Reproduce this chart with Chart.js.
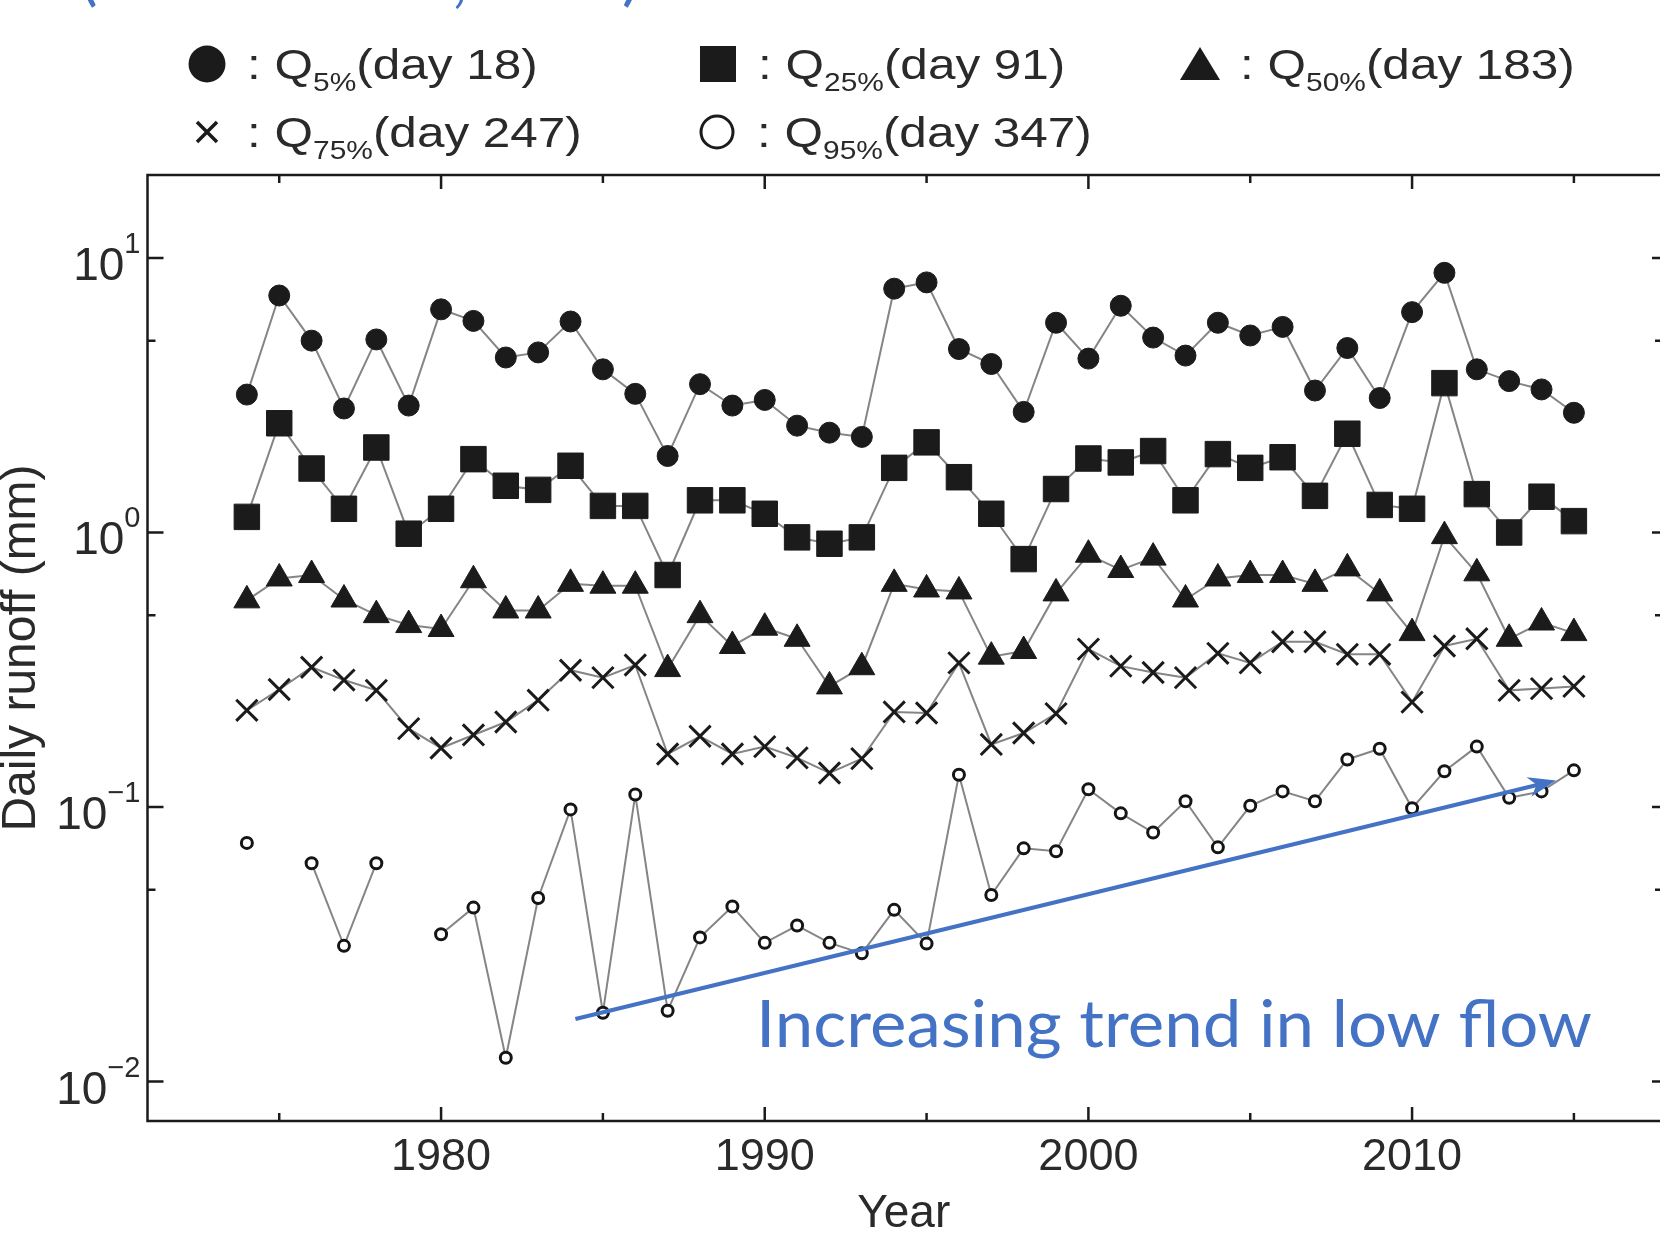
<!DOCTYPE html>
<html>
<head>
<meta charset="utf-8">
<title>Daily runoff quantiles</title>
<script src="https://cdn.jsdelivr.net/npm/chart.js@4.4.1/dist/chart.umd.min.js"></script>
<style>
  html, body { margin: 0; padding: 0; background: #ffffff; }
  canvas { display: block; }
</style>
</head>
<body>
<canvas id="runoffChart" width="1660" height="1242"></canvas>
<script>
// one value per year (mm)
const years = [1974, 1975, 1976, 1977, 1978, 1979, 1980, 1981, 1982, 1983,
               1984, 1985, 1986, 1987, 1988, 1989, 1990, 1991, 1992, 1993,
               1994, 1995, 1996, 1997, 1998, 1999, 2000, 2001, 2002, 2003,
               2004, 2005, 2006, 2007, 2008, 2009, 2010, 2011, 2012, 2013,
               2014, 2015];
const q5 = [3.18, 7.3, 5.0, 2.83, 5.05, 2.9, 6.5, 5.9, 4.34, 4.53,
            5.87, 3.93, 3.2, 1.9, 3.47, 2.9, 3.04, 2.45, 2.31, 2.23,
            7.73, 8.15, 4.66, 4.11, 2.75, 5.81, 4.3, 6.7, 5.13, 4.41,
            5.81, 5.22, 5.61, 3.29, 4.7, 3.09, 6.35, 8.83, 3.93, 3.56,
            3.32, 2.73];
const q25 = [1.14, 2.5, 1.71, 1.22, 2.04, 0.99, 1.22, 1.85, 1.48, 1.43,
             1.75, 1.25, 1.25, 0.7, 1.31, 1.31, 1.17, 0.96, 0.91, 0.96,
             1.72, 2.13, 1.59, 1.17, 0.8, 1.44, 1.86, 1.8, 1.98, 1.31,
             1.93, 1.72, 1.88, 1.36, 2.29, 1.26, 1.22, 3.5, 1.38, 1.0,
             1.35, 1.1];
const q50 = [0.566, 0.68, 0.7, 0.57, 0.5, 0.46, 0.445, 0.67, 0.52, 0.52,
             0.65, 0.64, 0.64, 0.318, 0.5, 0.386, 0.45, 0.41, 0.275, 0.323,
             0.65, 0.62, 0.61, 0.353, 0.37, 0.6, 0.83, 0.73, 0.81, 0.57,
             0.68, 0.7, 0.7, 0.65, 0.74, 0.6, 0.43, 0.97, 0.71, 0.41,
             0.47, 0.43];
const q75 = [0.225, 0.268, 0.323, 0.29, 0.266, 0.193, 0.164, 0.183, 0.204, 0.245,
             0.315, 0.296, 0.329, 0.156, 0.181, 0.156, 0.166, 0.151, 0.133, 0.15,
             0.222, 0.22, 0.335, 0.169, 0.186, 0.219, 0.376, 0.326, 0.309, 0.296,
             0.363, 0.335, 0.4, 0.4, 0.36, 0.36, 0.241, 0.386, 0.41, 0.266,
             0.27, 0.275];
const q95 = [0.074, null, 0.0624, 0.0312, 0.0624, null, 0.0344, 0.043, 0.0122, 0.0466,
             0.098, 0.0178, 0.111, 0.0181, 0.0335, 0.0434, 0.032, 0.037, 0.032, 0.0293,
             0.0422, 0.0318, 0.131, 0.0478, 0.0707, 0.069, 0.116, 0.0948, 0.0807, 0.105,
             0.0713, 0.101, 0.114, 0.105, 0.149, 0.163, 0.099, 0.135, 0.166, 0.108,
             0.114, 0.136];

const yearTicks = [1975, 1980, 1985, 1990, 1995, 2000, 2005, 2010, 2015];
const yearLabels = [1980, 1990, 2000, 2010];
const decadeTicks = [0.01, 0.1, 1, 10];
const decadeExponents = ['\u22122', '\u22121', '0', '1'];
const halfDecadeTicks = [0.05, 0.5, 5];

const legendSubs = ['5%', '25%', '50%', '75%', '95%'];
const legendDays = ['(day 18)', '(day 91)', '(day 183)', '(day 247)', '(day 347)'];
const legendSymbols = ['circle', 'square', 'triangle', 'cross', 'ring'];

const trendStart = [1984.15, 0.0169];
const trendEnd = [2014.45, 0.125];
const trendCaption = 'Increasing trend in low flow';

const INK = '#1b1b1b';
const TEXT = '#2a2a2a';
const LINE = '#858585';
const BLUE = '#4472C4';
const SANS = '"Liberation Sans", Arial, sans-serif';

function series(values) {
  return years.map((yr, i) => ({ x: yr, y: values[i] }));
}

function drawSymbol(ctx, kind, x, y) {
  ctx.save();
  ctx.fillStyle = INK;
  ctx.strokeStyle = INK;
  ctx.beginPath();
  if (kind === 'circle') {
    ctx.arc(x, y, 18.5, 0, Math.PI * 2);
    ctx.fill();
  } else if (kind === 'square') {
    ctx.fillRect(x - 18, y - 18, 36, 36);
  } else if (kind === 'triangle') {
    ctx.moveTo(x, y - 17);
    ctx.lineTo(x + 20, y + 16);
    ctx.lineTo(x - 20, y + 16);
    ctx.closePath();
    ctx.fill();
  } else if (kind === 'cross') {
    ctx.lineWidth = 3.5;
    ctx.moveTo(x - 10, y - 10); ctx.lineTo(x + 10, y + 10);
    ctx.moveTo(x + 10, y - 10); ctx.lineTo(x - 10, y + 10);
    ctx.stroke();
  } else {
    ctx.lineWidth = 3;
    ctx.arc(x, y, 16, 0, Math.PI * 2);
    ctx.stroke();
  }
  ctx.restore();
}

const figureDecor = {
  id: 'figureDecor',
  afterDatasetsDraw(chart) {
    const { ctx, scales: { x, y } } = chart;
    const x0 = x.getPixelForValue(trendStart[0]);
    const y0 = y.getPixelForValue(trendStart[1]);
    const x1 = x.getPixelForValue(trendEnd[0]);
    const y1 = y.getPixelForValue(trendEnd[1]);
    const ang = Math.atan2(y1 - y0, x1 - x0);
    const head = 28, half = 10;

    ctx.save();
    ctx.strokeStyle = BLUE;
    ctx.fillStyle = BLUE;
    ctx.lineWidth = 4;
    ctx.beginPath();
    ctx.moveTo(x0, y0);
    ctx.lineTo(x1 - Math.cos(ang) * head * 0.7, y1 - Math.sin(ang) * head * 0.7);
    ctx.stroke();
    ctx.translate(x1, y1);
    ctx.rotate(ang);
    ctx.beginPath();
    ctx.moveTo(0, 0);
    ctx.lineTo(-head, -half);
    ctx.lineTo(-head * 0.7, 0);
    ctx.lineTo(-head, half);
    ctx.closePath();
    ctx.fill();
    ctx.restore();

    ctx.save();
    ctx.font = '66px Lato';
    ctx.fillStyle = BLUE;
    const w = ctx.measureText(trendCaption).width;
    ctx.translate(756, 1047);
    ctx.scale(836 / w, 1);
    ctx.fillText(trendCaption, 0, 0);
    ctx.restore();
  },
  afterDraw(chart) {
    const { ctx, chartArea: a, scales: { x, y } } = chart;

    // frame with inward ticks
    ctx.save();
    ctx.strokeStyle = INK;
    ctx.lineWidth = 2.5;
    ctx.beginPath();
    ctx.moveTo(a.right + 2, a.top);
    ctx.lineTo(a.left, a.top);
    ctx.lineTo(a.left, a.bottom);
    ctx.lineTo(a.right + 2, a.bottom);
    ctx.stroke();
    ctx.beginPath();
    yearTicks.forEach(v => {
      const px = x.getPixelForValue(v);
      const len = v % 10 === 0 ? 14 : 8;
      ctx.moveTo(px, a.bottom); ctx.lineTo(px, a.bottom - len);
      ctx.moveTo(px, a.top); ctx.lineTo(px, a.top + len);
    });
    decadeTicks.forEach(v => {
      const py = y.getPixelForValue(v);
      ctx.moveTo(a.left, py); ctx.lineTo(a.left + 16, py);
      ctx.moveTo(a.right, py); ctx.lineTo(a.right - 8, py);
    });
    halfDecadeTicks.forEach(v => {
      const py = y.getPixelForValue(v);
      ctx.moveTo(a.left, py); ctx.lineTo(a.left + 8, py);
      ctx.moveTo(a.right, py); ctx.lineTo(a.right - 5, py);
    });
    ctx.stroke();

    // y tick labels as powers of ten
    ctx.fillStyle = TEXT;
    ctx.textAlign = 'left';
    ctx.textBaseline = 'alphabetic';
    decadeTicks.forEach((v, i) => {
      const py = y.getPixelForValue(v);
      const sup = decadeExponents[i];
      ctx.font = '29px ' + SANS;
      const sw = ctx.measureText(sup).width;
      ctx.font = '46px ' + SANS;
      const bw = ctx.measureText('10').width;
      const right = a.left - 7;
      ctx.fillText('10', right - sw - bw, py + 22);
      ctx.font = '29px ' + SANS;
      ctx.fillText(sup, right - sw, py - 5);
    });

    // legend
    const slots = [[207, 64], [718, 64], [1200, 64], [207, 132], [717, 132]];
    legendSubs.forEach((sub, i) => {
      const [mx, my] = slots[i];
      drawSymbol(ctx, legendSymbols[i], mx, my);
      ctx.save();
      ctx.translate(mx + 40, my + 15);
      ctx.scale(1.15, 1);
      ctx.fillStyle = TEXT;
      ctx.font = '43px ' + SANS;
      ctx.fillText(':', 0, 0);
      let cx = 24;
      ctx.fillText('Q', cx, 0);
      cx += ctx.measureText('Q').width;
      ctx.font = '26px ' + SANS;
      ctx.fillText(sub, cx, 12);
      cx += ctx.measureText(sub).width;
      ctx.font = '43px ' + SANS;
      ctx.fillText(legendDays[i], cx, 0);
      ctx.restore();
    });

    // bottom of the cut-off caption above the figure
    ctx.fillStyle = BLUE;
    ctx.font = '66px Lato';
    ctx.fillText('(', 80, -2);
    ctx.fillText(',', 452, 0);
    ctx.fillText(')', 622, -2);
    ctx.restore();
  }
};

function lineSet(label, values, style) {
  return Object.assign({
    label: label,
    data: series(values),
    borderColor: LINE,
    borderWidth: 2,
    tension: 0,
    spanGaps: false,
    pointBackgroundColor: INK,
    pointBorderColor: INK,
    pointBorderWidth: 1
  }, style);
}

const ctx = document.getElementById('runoffChart');
const runoffChart = new Chart(ctx, {
  type: 'line',
  data: {
    datasets: [
      lineSet('Q95%', q95, { pointStyle: 'circle', pointRadius: 5.5, pointBackgroundColor: '#ffffff', pointBorderColor: '#151515', pointBorderWidth: 3 }),
      lineSet('Q75%', q75, { pointStyle: 'crossRot', pointRadius: 15, pointBorderWidth: 3 }),
      lineSet('Q50%', q50, { pointStyle: 'triangle', pointRadius: 15 }),
      lineSet('Q25%', q25, { pointStyle: 'rect', pointRadius: 18 }),
      lineSet('Q5%', q5, { pointStyle: 'circle', pointRadius: 10.5 })
    ]
  },
  options: {
    responsive: false,
    animation: false,
    devicePixelRatio: 1,
    events: [],
    layout: { autoPadding: false, padding: { top: 175, right: 0, bottom: 0, left: 0 } },
    plugins: { legend: { display: false }, tooltip: { enabled: false } },
    scales: {
      x: {
        type: 'linear',
        min: 1970.93,
        max: 2017.66,
        grid: { display: false, drawTicks: false },
        border: { display: false },
        afterBuildTicks: s => { s.ticks = yearLabels.map(v => ({ value: v })); },
        afterFit: s => { s.height = 121; },
        ticks: {
          autoSkip: false,
          maxRotation: 0,
          padding: 10,
          color: TEXT,
          font: { family: SANS, size: 45 },
          callback: v => String(v)
        },
        title: {
          display: true,
          text: 'Year',
          color: TEXT,
          padding: { top: 0, bottom: 0 },
          font: { family: SANS, size: 46 }
        }
      },
      y: {
        type: 'logarithmic',
        min: 0.00718,
        max: 20.06,
        grid: { display: false, drawTicks: false },
        border: { display: false },
        afterFit: s => { s.width = 147.5; },
        ticks: { display: false },
        title: {
          display: true,
          text: 'Daily runoff (mm)',
          color: TEXT,
          padding: 0,
          font: { family: SANS, size: 48, lineHeight: 0.9 }
        }
      }
    }
  },
  plugins: [figureDecor]
});
</script>
</body>
</html>
